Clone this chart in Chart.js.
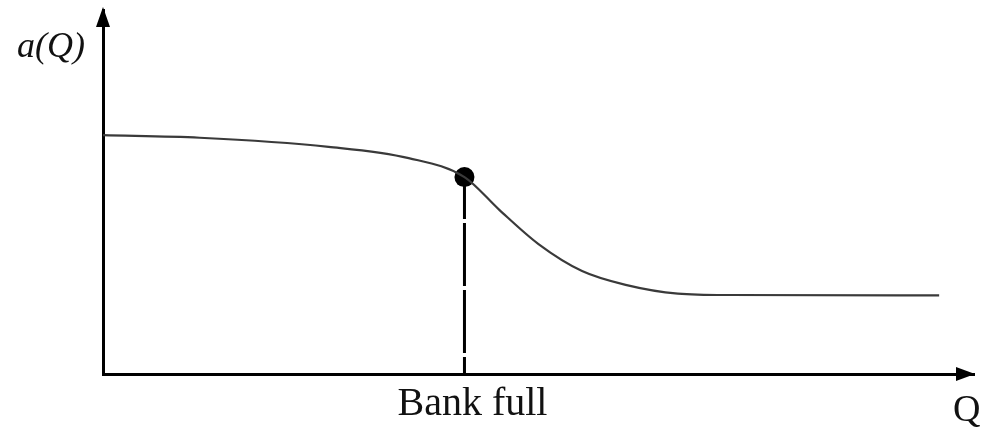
<!DOCTYPE html>
<html>
<head>
<meta charset="utf-8">
<script src="https://cdn.jsdelivr.net/npm/chart.js@4"></script>
<style>
  html, body { margin: 0; padding: 0; background: #fff; }
  #wrap { width: 984px; height: 427px; }
</style>
</head>
<body>
<div id="wrap"><canvas id="c"></canvas></div>
<script>
// discharge Q (0-100) and a(Q) (0-100)
const curveQ = [0, 11.1, 25.9, 35.1, 41.5, 45.5, 50, 55, 60, 66, 72, 96];
const curveA = [65.6, 64.9, 62.4, 59.3, 54.1, 45.1, 35.7, 28.3, 24.5, 22.1, 21.7, 21.6];
const bankFullQ = 41.5;
const bankFullA = 54.1;
const xLabel = 'Q';
const yLabel = 'a(Q)';
const markLabel = 'Bank full';

const serif = '"Liberation Serif", "DejaVu Serif", serif';

// arrows and labels round the axes
const axisDecor = {
  id: 'axisDecor',
  afterDraw(chart) {
    const { ctx, chartArea: a, scales } = chart;
    ctx.save();
    ctx.fillStyle = '#000';
    // y arrow
    ctx.beginPath();
    ctx.moveTo(a.left, a.top - 3);
    ctx.lineTo(a.left - 7, a.top + 17);
    ctx.lineTo(a.left + 7, a.top + 17);
    ctx.closePath();
    ctx.fill();
    // x arrow
    ctx.beginPath();
    ctx.moveTo(a.right + 1, a.bottom);
    ctx.lineTo(a.right - 18, a.bottom - 7);
    ctx.lineTo(a.right - 18, a.bottom + 7);
    ctx.closePath();
    ctx.fill();

    ctx.fillStyle = '#111';
    ctx.textBaseline = 'alphabetic';
    ctx.font = '40px ' + serif;
    ctx.textAlign = 'center';
    ctx.fillText(markLabel, scales.x.getPixelForValue(bankFullQ) + 8, 415);
    ctx.textAlign = 'left';
    ctx.font = '38px ' + serif;
    ctx.fillText(xLabel, 953, 421);
    ctx.font = 'italic 36px ' + serif;
    ctx.fillText(yLabel, 17, 57);
    ctx.restore();
  }
};

new Chart(document.getElementById('c'), {
  type: 'scatter',
  data: {
    datasets: [
      {
        data: curveQ.map((q, i) => ({ x: q, y: curveA[i] })),
        showLine: true,
        borderColor: '#3a3a3a',
        borderWidth: 2.2,
        pointRadius: 0,
        cubicInterpolationMode: 'monotone'
      },
      {
        data: [{ x: bankFullQ, y: bankFullA }, { x: bankFullQ, y: 0 }],
        showLine: true,
        borderColor: '#000',
        borderWidth: 3,
        borderDash: [63, 4],
        borderDashOffset: 21,
        pointRadius: 0
      },
      {
        data: [{ x: bankFullQ, y: bankFullA }],
        pointRadius: 10,
        pointBackgroundColor: '#000',
        pointBorderWidth: 0
      }
    ]
  },
  options: {
    responsive: true,
    maintainAspectRatio: false,
    animation: false,
    layout: { padding: { left: 103, right: 6, top: 10, bottom: 53 } },
    plugins: { legend: { display: false }, tooltip: { enabled: false } },
    scales: {
      x: {
        type: 'linear', min: 0, max: 100,
        grid: { display: false },
        ticks: { display: false },
        border: { display: true, color: '#000', width: 3 },
        afterFit: s => { s.height = 0; }
      },
      y: {
        type: 'linear', min: 0, max: 100,
        grid: { display: false },
        ticks: { display: false },
        border: { display: true, color: '#000', width: 3 },
        afterFit: s => { s.width = 0; }
      }
    }
  },
  plugins: [axisDecor]
});
</script>
</body>
</html>
